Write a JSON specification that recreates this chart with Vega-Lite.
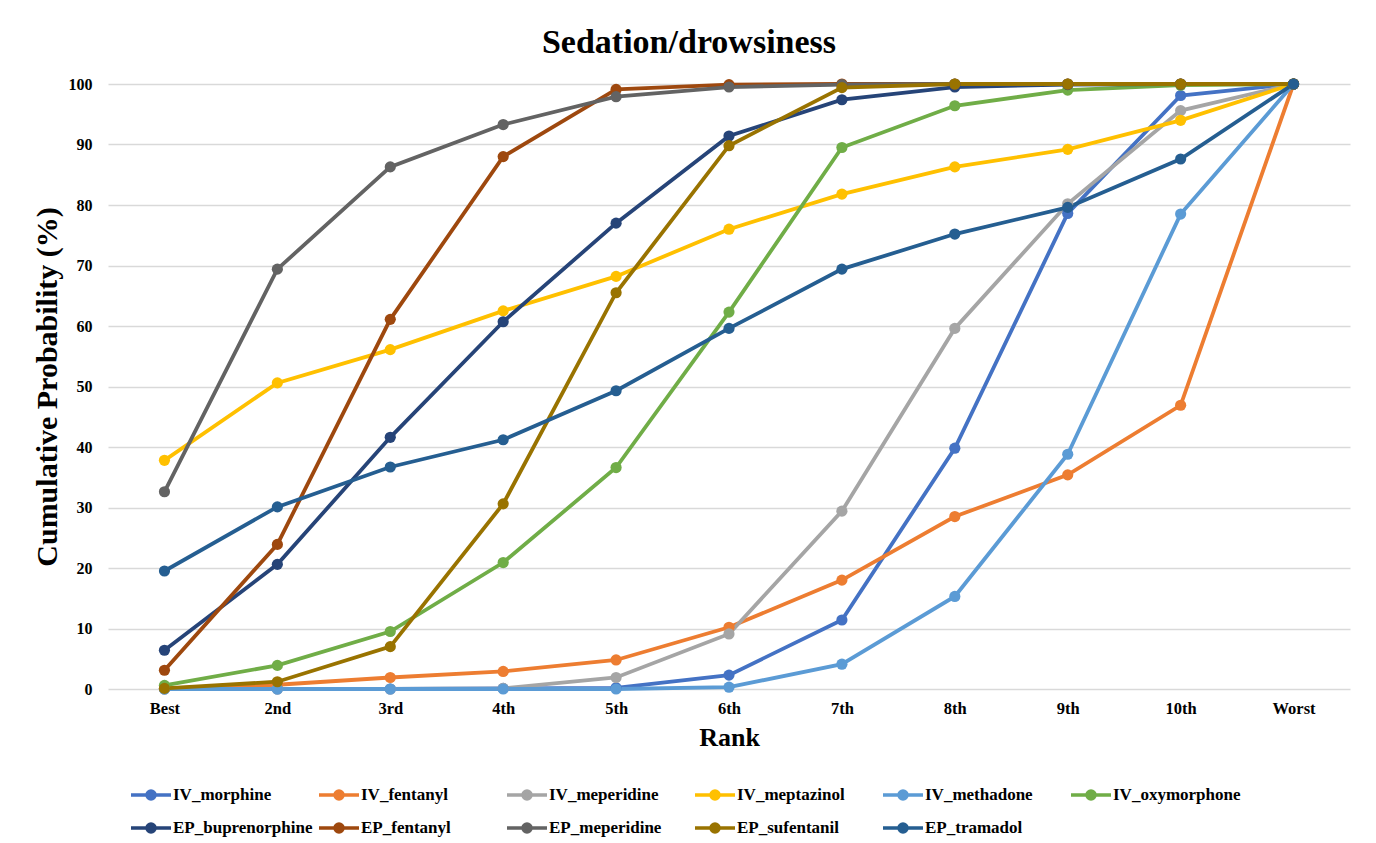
{
  "$schema": "https://vega.github.io/schema/vega-lite/v6.json",
  "autosize": {"type": "none"},
  "width": 1242,
  "height": 605,
  "padding": {"left": 108, "top": 84, "right": 26, "bottom": 154},
  "background": "white",
  "title": {
    "text": "Sedation/drowsiness",
    "font": "Liberation Serif",
    "fontSize": 34,
    "fontWeight": "bold",
    "color": "#000000",
    "anchor": "middle",
    "dx": -40,
    "offset": 16
  },
  "data": {
    "values": [
      {"series": "IV_morphine", "k": 1, "rank": "Best", "p": 0},
      {"series": "IV_morphine", "k": 2, "rank": "2nd", "p": 0},
      {"series": "IV_morphine", "k": 3, "rank": "3rd", "p": 0},
      {"series": "IV_morphine", "k": 4, "rank": "4th", "p": 0.1},
      {"series": "IV_morphine", "k": 5, "rank": "5th", "p": 0.2},
      {"series": "IV_morphine", "k": 6, "rank": "6th", "p": 2.3},
      {"series": "IV_morphine", "k": 7, "rank": "7th", "p": 11.4},
      {"series": "IV_morphine", "k": 8, "rank": "8th", "p": 39.8},
      {"series": "IV_morphine", "k": 9, "rank": "9th", "p": 78.6},
      {"series": "IV_morphine", "k": 10, "rank": "10th", "p": 98.1},
      {"series": "IV_morphine", "k": 11, "rank": "Worst", "p": 100},

      {"series": "IV_fentanyl", "k": 1, "rank": "Best", "p": 0.1},
      {"series": "IV_fentanyl", "k": 2, "rank": "2nd", "p": 0.7},
      {"series": "IV_fentanyl", "k": 3, "rank": "3rd", "p": 1.9},
      {"series": "IV_fentanyl", "k": 4, "rank": "4th", "p": 2.9},
      {"series": "IV_fentanyl", "k": 5, "rank": "5th", "p": 4.8},
      {"series": "IV_fentanyl", "k": 6, "rank": "6th", "p": 10.2},
      {"series": "IV_fentanyl", "k": 7, "rank": "7th", "p": 18.0},
      {"series": "IV_fentanyl", "k": 8, "rank": "8th", "p": 28.5},
      {"series": "IV_fentanyl", "k": 9, "rank": "9th", "p": 35.4},
      {"series": "IV_fentanyl", "k": 10, "rank": "10th", "p": 46.9},
      {"series": "IV_fentanyl", "k": 11, "rank": "Worst", "p": 100},

      {"series": "IV_meperidine", "k": 1, "rank": "Best", "p": 0},
      {"series": "IV_meperidine", "k": 2, "rank": "2nd", "p": 0},
      {"series": "IV_meperidine", "k": 3, "rank": "3rd", "p": 0},
      {"series": "IV_meperidine", "k": 4, "rank": "4th", "p": 0.1},
      {"series": "IV_meperidine", "k": 5, "rank": "5th", "p": 1.9},
      {"series": "IV_meperidine", "k": 6, "rank": "6th", "p": 9.1},
      {"series": "IV_meperidine", "k": 7, "rank": "7th", "p": 29.4},
      {"series": "IV_meperidine", "k": 8, "rank": "8th", "p": 59.6},
      {"series": "IV_meperidine", "k": 9, "rank": "9th", "p": 80.2},
      {"series": "IV_meperidine", "k": 10, "rank": "10th", "p": 95.6},
      {"series": "IV_meperidine", "k": 11, "rank": "Worst", "p": 100},

      {"series": "IV_meptazinol", "k": 1, "rank": "Best", "p": 37.8},
      {"series": "IV_meptazinol", "k": 2, "rank": "2nd", "p": 50.6},
      {"series": "IV_meptazinol", "k": 3, "rank": "3rd", "p": 56.1},
      {"series": "IV_meptazinol", "k": 4, "rank": "4th", "p": 62.5},
      {"series": "IV_meptazinol", "k": 5, "rank": "5th", "p": 68.2},
      {"series": "IV_meptazinol", "k": 6, "rank": "6th", "p": 76.0},
      {"series": "IV_meptazinol", "k": 7, "rank": "7th", "p": 81.8},
      {"series": "IV_meptazinol", "k": 8, "rank": "8th", "p": 86.3},
      {"series": "IV_meptazinol", "k": 9, "rank": "9th", "p": 89.2},
      {"series": "IV_meptazinol", "k": 10, "rank": "10th", "p": 94.0},
      {"series": "IV_meptazinol", "k": 11, "rank": "Worst", "p": 100},

      {"series": "IV_methadone", "k": 1, "rank": "Best", "p": 0},
      {"series": "IV_methadone", "k": 2, "rank": "2nd", "p": 0},
      {"series": "IV_methadone", "k": 3, "rank": "3rd", "p": 0},
      {"series": "IV_methadone", "k": 4, "rank": "4th", "p": 0},
      {"series": "IV_methadone", "k": 5, "rank": "5th", "p": 0},
      {"series": "IV_methadone", "k": 6, "rank": "6th", "p": 0.3},
      {"series": "IV_methadone", "k": 7, "rank": "7th", "p": 4.1},
      {"series": "IV_methadone", "k": 8, "rank": "8th", "p": 15.3},
      {"series": "IV_methadone", "k": 9, "rank": "9th", "p": 38.8},
      {"series": "IV_methadone", "k": 10, "rank": "10th", "p": 78.5},
      {"series": "IV_methadone", "k": 11, "rank": "Worst", "p": 100},

      {"series": "IV_oxymorphone", "k": 1, "rank": "Best", "p": 0.6},
      {"series": "IV_oxymorphone", "k": 2, "rank": "2nd", "p": 3.9},
      {"series": "IV_oxymorphone", "k": 3, "rank": "3rd", "p": 9.5},
      {"series": "IV_oxymorphone", "k": 4, "rank": "4th", "p": 20.9},
      {"series": "IV_oxymorphone", "k": 5, "rank": "5th", "p": 36.6},
      {"series": "IV_oxymorphone", "k": 6, "rank": "6th", "p": 62.3},
      {"series": "IV_oxymorphone", "k": 7, "rank": "7th", "p": 89.5},
      {"series": "IV_oxymorphone", "k": 8, "rank": "8th", "p": 96.4},
      {"series": "IV_oxymorphone", "k": 9, "rank": "9th", "p": 99.0},
      {"series": "IV_oxymorphone", "k": 10, "rank": "10th", "p": 99.8},
      {"series": "IV_oxymorphone", "k": 11, "rank": "Worst", "p": 100},

      {"series": "EP_buprenorphine", "k": 1, "rank": "Best", "p": 6.4},
      {"series": "EP_buprenorphine", "k": 2, "rank": "2nd", "p": 20.6},
      {"series": "EP_buprenorphine", "k": 3, "rank": "3rd", "p": 41.6},
      {"series": "EP_buprenorphine", "k": 4, "rank": "4th", "p": 60.7},
      {"series": "EP_buprenorphine", "k": 5, "rank": "5th", "p": 77.0},
      {"series": "EP_buprenorphine", "k": 6, "rank": "6th", "p": 91.4},
      {"series": "EP_buprenorphine", "k": 7, "rank": "7th", "p": 97.4},
      {"series": "EP_buprenorphine", "k": 8, "rank": "8th", "p": 99.5},
      {"series": "EP_buprenorphine", "k": 9, "rank": "9th", "p": 99.9},
      {"series": "EP_buprenorphine", "k": 10, "rank": "10th", "p": 100},
      {"series": "EP_buprenorphine", "k": 11, "rank": "Worst", "p": 100},

      {"series": "EP_fentanyl", "k": 1, "rank": "Best", "p": 3.1},
      {"series": "EP_fentanyl", "k": 2, "rank": "2nd", "p": 23.9},
      {"series": "EP_fentanyl", "k": 3, "rank": "3rd", "p": 61.1},
      {"series": "EP_fentanyl", "k": 4, "rank": "4th", "p": 88.0},
      {"series": "EP_fentanyl", "k": 5, "rank": "5th", "p": 99.1},
      {"series": "EP_fentanyl", "k": 6, "rank": "6th", "p": 99.9},
      {"series": "EP_fentanyl", "k": 7, "rank": "7th", "p": 100},
      {"series": "EP_fentanyl", "k": 8, "rank": "8th", "p": 100},
      {"series": "EP_fentanyl", "k": 9, "rank": "9th", "p": 100},
      {"series": "EP_fentanyl", "k": 10, "rank": "10th", "p": 100},
      {"series": "EP_fentanyl", "k": 11, "rank": "Worst", "p": 100},

      {"series": "EP_meperidine", "k": 1, "rank": "Best", "p": 32.6},
      {"series": "EP_meperidine", "k": 2, "rank": "2nd", "p": 69.4},
      {"series": "EP_meperidine", "k": 3, "rank": "3rd", "p": 86.3},
      {"series": "EP_meperidine", "k": 4, "rank": "4th", "p": 93.3},
      {"series": "EP_meperidine", "k": 5, "rank": "5th", "p": 97.9},
      {"series": "EP_meperidine", "k": 6, "rank": "6th", "p": 99.5},
      {"series": "EP_meperidine", "k": 7, "rank": "7th", "p": 99.9},
      {"series": "EP_meperidine", "k": 8, "rank": "8th", "p": 100},
      {"series": "EP_meperidine", "k": 9, "rank": "9th", "p": 100},
      {"series": "EP_meperidine", "k": 10, "rank": "10th", "p": 100},
      {"series": "EP_meperidine", "k": 11, "rank": "Worst", "p": 100},

      {"series": "EP_sufentanil", "k": 1, "rank": "Best", "p": 0.1},
      {"series": "EP_sufentanil", "k": 2, "rank": "2nd", "p": 1.2},
      {"series": "EP_sufentanil", "k": 3, "rank": "3rd", "p": 7.0},
      {"series": "EP_sufentanil", "k": 4, "rank": "4th", "p": 30.6},
      {"series": "EP_sufentanil", "k": 5, "rank": "5th", "p": 65.5},
      {"series": "EP_sufentanil", "k": 6, "rank": "6th", "p": 89.8},
      {"series": "EP_sufentanil", "k": 7, "rank": "7th", "p": 99.4},
      {"series": "EP_sufentanil", "k": 8, "rank": "8th", "p": 100},
      {"series": "EP_sufentanil", "k": 9, "rank": "9th", "p": 100},
      {"series": "EP_sufentanil", "k": 10, "rank": "10th", "p": 100},
      {"series": "EP_sufentanil", "k": 11, "rank": "Worst", "p": 100},

      {"series": "EP_tramadol", "k": 1, "rank": "Best", "p": 19.5},
      {"series": "EP_tramadol", "k": 2, "rank": "2nd", "p": 30.1},
      {"series": "EP_tramadol", "k": 3, "rank": "3rd", "p": 36.7},
      {"series": "EP_tramadol", "k": 4, "rank": "4th", "p": 41.2},
      {"series": "EP_tramadol", "k": 5, "rank": "5th", "p": 49.3},
      {"series": "EP_tramadol", "k": 6, "rank": "6th", "p": 59.6},
      {"series": "EP_tramadol", "k": 7, "rank": "7th", "p": 69.4},
      {"series": "EP_tramadol", "k": 8, "rank": "8th", "p": 75.2},
      {"series": "EP_tramadol", "k": 9, "rank": "9th", "p": 79.6},
      {"series": "EP_tramadol", "k": 10, "rank": "10th", "p": 87.6},
      {"series": "EP_tramadol", "k": 11, "rank": "Worst", "p": 100}
    ]
  },
  "config": {
    "view": {"stroke": null},
    "font": "Liberation Serif"
  },
  "mark": {"type": "line", "strokeWidth": 3.8, "point": {"filled": true, "size": 125, "opacity": 1}},
  "encoding": {
    "x": {
      "field": "rank",
      "type": "ordinal",
      "sort": ["Best", "2nd", "3rd", "4th", "5th", "6th", "7th", "8th", "9th", "10th", "Worst"],
      "scale": {"type": "point", "padding": 0.5},
      "axis": {
        "title": "Rank",
        "titleFont": "Liberation Serif",
        "titleFontSize": 26,
        "titleFontWeight": "bold",
        "titleColor": "#000000",
        "titlePadding": 8,
        "labelFont": "Liberation Serif",
        "labelFontSize": 16.5,
        "labelFontWeight": "bold",
        "labelColor": "#000000",
        "labelAngle": 0,
        "labelPadding": 11,
        "ticks": false,
        "domain": false,
        "grid": false
      }
    },
    "y": {
      "field": "p",
      "type": "quantitative",
      "scale": {"domain": [0, 100], "nice": false},
      "axis": {
        "title": "Cumulative Probability (%)",
        "titleFont": "Liberation Serif",
        "titleFontSize": 30,
        "titleFontWeight": "bold",
        "titleColor": "#000000",
        "titlePadding": 6,
        "labelFont": "Liberation Serif",
        "labelFontSize": 16,
        "labelFontWeight": "bold",
        "labelColor": "#000000",
        "labelPadding": 16,
        "values": [0, 10, 20, 30, 40, 50, 60, 70, 80, 90, 100],
        "ticks": false,
        "domain": false,
        "grid": true,
        "gridColor": "#d9d9d9",
        "gridWidth": 1.5
      }
    },
    "color": {
      "field": "series",
      "type": "nominal",
      "scale": {
        "domain": ["IV_morphine", "IV_fentanyl", "IV_meperidine", "IV_meptazinol", "IV_methadone", "IV_oxymorphone", "EP_buprenorphine", "EP_fentanyl", "EP_meperidine", "EP_sufentanil", "EP_tramadol"],
        "range": ["#4472C4", "#ED7D31", "#A5A5A5", "#FFC000", "#5B9BD5", "#70AD47", "#264478", "#9E480E", "#636363", "#997300", "#255E91"]
      },
      "legend": {
        "title": null,
        "orient": "none",
        "legendX": 21,
        "legendY": 689,
        "direction": "horizontal",
        "columns": 6,
        "gridAlign": "all",
        "columnPadding": -1,
        "rowPadding": -12,
        "symbolType": "M-1,0L1,0M-0.2,0a0.2,0.2 0 1,0 0.4,0a0.2,0.2 0 1,0 -0.4,0",
        "symbolSize": 1600,
        "symbolStrokeWidth": 3.5,
        "labelFont": "Liberation Serif",
        "labelFontSize": 17,
        "labelFontWeight": "bold",
        "labelColor": "#000000",
        "labelOffset": 0,
        "labelLimit": 220
      }
    },
    "order": {"field": "k", "type": "quantitative"}
  }
}
